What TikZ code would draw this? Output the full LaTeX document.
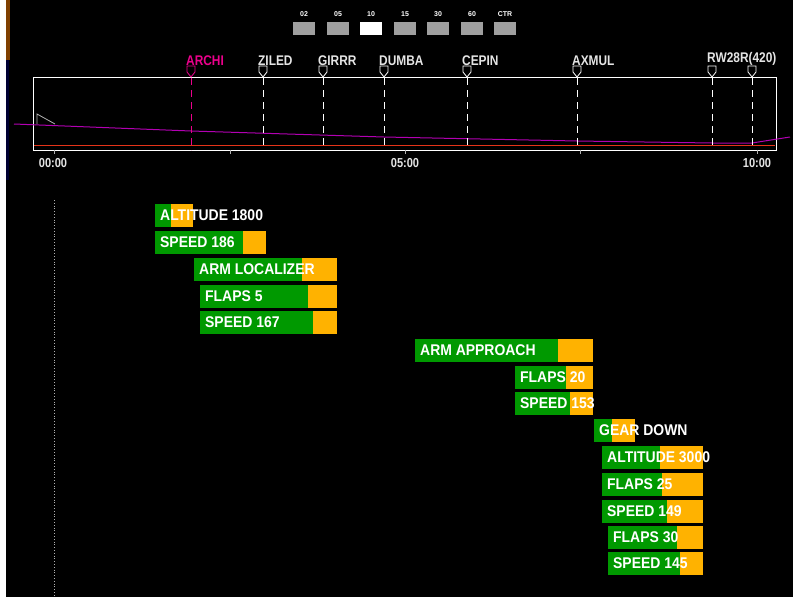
\documentclass[tikz,border=0pt]{standalone}
\usepackage{fontspec}
\setmainfont{Liberation Sans}
\begin{document}
\begin{tikzpicture}[x=1pt,y=-1pt,
  lbl/.style={text=white,font=\bfseries\fontsize{15.5}{16}\selectfont,inner sep=0pt,anchor=west,xscale=0.9,transform shape},
  wp/.style={text=white!90!black,font=\bfseries\fontsize{14}{15}\selectfont,inner sep=0pt,anchor=south west,xscale=0.85,transform shape},
  tm/.style={text=white!90!black,font=\bfseries\fontsize{13}{14}\selectfont,inner sep=0pt,xscale=0.85,transform shape},
  btn/.style={fill=gray!75,minimum width=22pt,minimum height=13pt,inner sep=0pt},
  btl/.style={text=white,font=\bfseries\fontsize{7}{8}\selectfont,inner sep=0pt},
  vdash/.style={white!80!black,dashed,dash pattern=on 7pt off 5pt,line width=0.8pt},
  green/.style={fill=green!60!black},
  orng/.style={fill=orange!60!yellow}]
\useasboundingbox (0,0) rectangle (799,605);
\fill[white] (0,0) rectangle (799,605);
\fill[black] (6,0) rectangle (793,597);
\fill[orange!50!black] (6,0) rectangle (10,60);
\fill[blue!20!black] (6,60) rectangle (9,180);
% buttons
\foreach \x/\t [count=\i] in {304/02,338/05,371/10,405/15,438/30,472/60,505/CTR}{
  \node[btn] (b\i) at (\x,28.5) {};
  \node[btl] (bl\i) at (\x,14) {\t};
}
\node[btn,fill=white] at (371,28.5) {};
% timeline box
\draw[white,line width=0.8pt] (33,77) rectangle (776,150);
\draw[red!60!brown,line width=0.8pt] (34,145) -- (775,145);
\draw[violet!60!magenta,line width=1pt] (14,124) -- (191,131) -- (384,137) -- (577,141) -- (712,143) -- (752,143) -- (790,137);
\draw[white!70!black,line width=0.8pt] (37,124) -- (37,114) -- (55,124);
% waypoints
\foreach \x/\n/\c in {191/ARCHI/magenta,263/ZILED/white,323/GIRRR/white,384/DUMBA/white,467/CEPIN/white,577/AXMUL/white,712/RW28R/white,752/RW28Rb/white}{
  \draw[\c,line width=0.8pt] (\x-4,66) -- (\x+4,66) -- (\x+4,72) -- (\x,77) -- (\x-4,72) -- cycle;
  \draw[vdash,draw=\c] (\x,78) -- (\x,150);
  \coordinate (w\n) at (\x-5,66);
}
\node[wp,text=magenta] (nARCHI) at (wARCHI) {ARCHI};
\node[wp] (nZILED) at (wZILED) {ZILED};
\node[wp] (nGIRRR) at (wGIRRR) {GIRRR};
\node[wp] (nDUMBA) at (wDUMBA) {DUMBA};
\node[wp] (nCEPIN) at (wCEPIN) {CEPIN};
\node[wp] (nAXMUL) at (wAXMUL) {AXMUL};
\node[wp] (nRW) at (wRW28R) {RW28R(420)};
% ticks and times
\foreach \x in {54,230,405,580,757}{\draw[white!70!black] (\x,150) -- (\x,154);}
\node[tm] (t0) at (53,163) {00:00};
\node[tm] (t5) at (405,163) {05:00};
\node[tm] (t10) at (757,163) {10:00};
\draw[white!70!black,dotted,line width=0.8pt] (54,200) -- (54,595);
% bars
\newcommand\mybar[6]{%
  \fill[green] (#1,#4) rectangle (#2,#4+23);
  \fill[orng] (#2,#4) rectangle (#3,#4+23);
  \node[lbl] (#6) at (#1+5,#4+11.5) {#5};}
\mybar{155}{171}{193}{204}{ALTITUDE 1800}{a1}
\mybar{155}{243}{266}{231}{SPEED 186}{a2}
\mybar{194}{302}{337}{258}{ARM LOCALIZER}{a3}
\mybar{200}{308}{337}{285}{FLAPS 5}{a4}
\mybar{200}{313}{337}{311}{SPEED 167}{a5}
\mybar{415}{558}{593}{339}{ARM APPROACH}{a6}
\mybar{515}{566}{593}{366}{FLAPS 20}{a7}
\mybar{515}{570}{593}{392}{SPEED 153}{a8}
\mybar{594}{612}{635}{419}{GEAR DOWN}{a9}
\mybar{602}{660}{703}{446}{ALTITUDE 3000}{a10}
\mybar{602}{662}{703}{473}{FLAPS 25}{a11}
\mybar{602}{667}{703}{500}{SPEED 149}{a12}
\mybar{608}{677}{703}{526}{FLAPS 30}{a13}
\mybar{608}{680}{703}{552}{SPEED 145}{a14}
\end{tikzpicture}
\end{document}
